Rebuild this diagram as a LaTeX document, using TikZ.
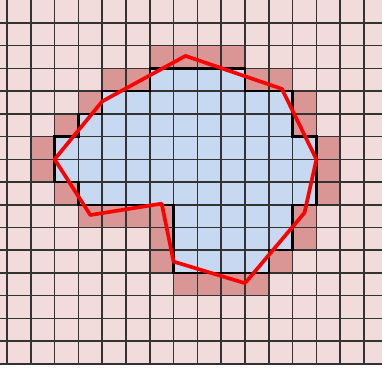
\documentclass[tikz,border=0pt]{standalone}
\definecolor{cellpink}{RGB}{242,220,219}
\definecolor{edgepink}{RGB}{218,150,148}
\definecolor{insideblue}{RGB}{198,217,241}
\begin{document}
\begin{tikzpicture}[x=0.5cm,y=0.4775cm]
\useasboundingbox (-0.294,-0.264) rectangle (15.756,16.01);
% ---- background cells ----
\fill[cellpink] (-0.294,0) rectangle (15.756,16.01);
% cells cut by the red outline (row/columns)
\foreach \r/\cols in {13/{6,7,8,9}, 12/{4,5,10,11}, 11/{3,12}, 10/{2,12},
    9/{1,13}, 8/{1,13}, 7/{2,13}, 6/{3,4,5,6,12}, 5/{6,12}, 4/{6,11},
    3/{7,8,9,10}}
  \foreach \c in \cols
    \fill[edgepink] (\c,\r) rectangle ++(1,1);
% cells inside the outline
\fill[insideblue] (6,13) -- (10,13) -- (10,12) -- (12,12) -- (12,10) -- (13,10)
  -- (13,7) -- (12,7) -- (12,5) -- (11,5) -- (11,4) -- (7,4) -- (7,7) -- (3,7)
  -- (3,8) -- (2,8) -- (2,10) -- (3,10) -- (3,11) -- (4,11) -- (4,12) -- (6,12) -- cycle;
% ---- grid ----
\foreach \i in {0,...,15} \draw[black!80, line width=0.9pt] (\i,0) -- (\i,16.01);
\foreach \j in {0,...,15} \draw[black!80, line width=0.9pt] (-0.294,\j) -- (15.756,\j);
% border of the inside cells
\draw[black, line width=1.5pt] (6,13) -- (10,13) -- (10,12) -- (12,12) -- (12,10) -- (13,10)
  -- (13,7) -- (12,7) -- (12,5) -- (11,5) -- (11,4) -- (7,4) -- (7,7) -- (3,7)
  -- (3,8) -- (2,8) -- (2,10) -- (3,10) -- (3,11) -- (4,11) -- (4,12) -- (6,12) -- cycle;
% ---- red outline ----
\draw[red, line width=2.2pt, line join=round]
  (2,9) -- (4,11.55) -- (7.5,13.55) -- (11.55,12.1) -- (13,9) -- (12.5,6.65)
  -- (10,3.55) -- (7,4.5) -- (6.5,7.05) -- (3.5,6.55) -- cycle;
\end{tikzpicture}
\end{document}
